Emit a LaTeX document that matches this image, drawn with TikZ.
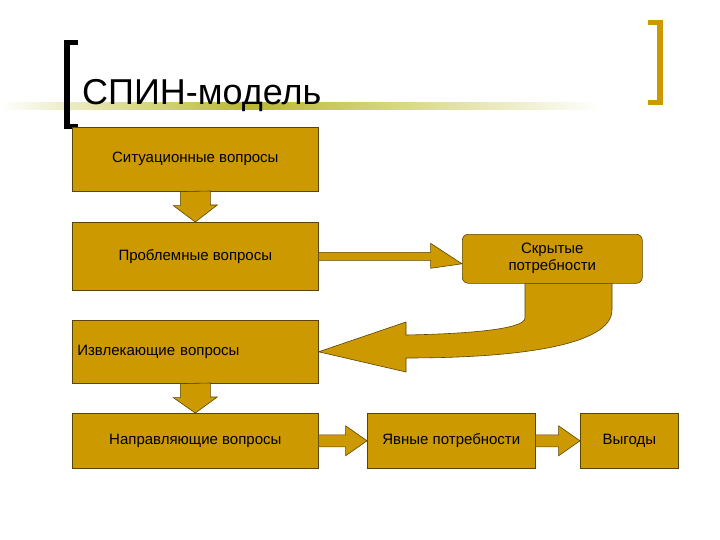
\documentclass[tikz,border=0pt]{standalone}
\usepackage{fontspec}
\usetikzlibrary{calc}
\setmainfont{Liberation Sans}
\definecolor{gold}{HTML}{CC9900}
\definecolor{edge}{HTML}{5A4500}
\begin{document}
\begin{tikzpicture}[x=1pt,y=-1pt,
  box/.style={draw=edge,fill=gold,line width=0.6pt,minimum height=#1,inner sep=2pt,font=\fontsize{15}{17}\selectfont},
  blk/.style={draw=edge,fill=gold,line width=0.6pt,line join=miter}]
\useasboundingbox (0,0) rectangle (720,540);
\fill[white] (0,0) rectangle (720,540);
% gradient line
\shade[left color=white,right color=olive!55!white] (0,103) rectangle (250,110);
\shade[left color=olive!55!white,right color=white] (250,103) rectangle (600,110);
% brackets
\fill[black] (64,40) rectangle (70,129);
\fill[black] (64,40) rectangle (78,45);
\fill[black] (64,124) rectangle (78,129);
\fill[gold] (657,20) rectangle (663,105);
\fill[gold] (648,20) rectangle (663,25);
\fill[gold] (648,100) rectangle (663,105);
\node[anchor=base west,font=\fontsize{36}{40}\selectfont,inner sep=0] (title) at (82,105) {СПИН-модель};
% boxes
\node[box=64pt,minimum width=246pt,anchor=north west] (b1) at (72,127) {Ситуационные вопросы};
\node[box=68pt,minimum width=246pt,anchor=north west] (b2) at (72,222) {Проблемные вопросы};
\node[box=63pt,minimum width=246pt,anchor=north west,align=left,text width=236pt] (b3) at (72,320) {Извлекающие вопросы};
\node[box=55pt,minimum width=246pt,anchor=north west] (b4) at (72,413) {Направляющие вопросы};
% curved arrow
\coordinate (cs) at (525,283);
\draw[blk] (cs) -- (525,318) .. controls (525,330) and (460,334) .. (406,335) -- (406,322) -- (b3.east) -- (406,372) -- (406,358)
  .. controls (520,358) and (612,345) .. (612,310) -- (612,283) -- cycle;
\node[box=49pt,minimum width=180pt,anchor=north west,rounded corners=6pt,align=center] (s) at (462,234) {Скрытые\\потребности};
\node[box=55pt,minimum width=168pt,anchor=north west] (b5) at (367,413) {Явные потребности};
\node[box=55pt,minimum width=98pt,anchor=north west] (b6) at (580,413) {Выгоды};
% down arrows
\draw[blk] (b1.south) ++(-15,0) -- ++(0,14) -- ++(-7,0) -- (b2.north) -- ++(22,-17) -- ++(-7,0) -- ++(0,-14) -- cycle;
\draw[blk] (b3.south) ++(-15,0) -- ++(0,14) -- ++(-7,0) -- (b4.north) -- ++(22,-16) -- ++(-7,0) -- ++(0,-14) -- cycle;
% right arrows
\draw[blk] (b2.east) ++(0,-4) -- ++(112,0) -- ++(0,-9) -- ($(s.west)+(0,5)$) -- ($(b2.east)+(112,12)$) -- ++(0,-8) -- ++(-112,0) -- cycle;
\draw[blk] (b4.east) ++(0,-6) -- ++(27,0) -- ++(0,-9) -- (b5.west) -- ($(b4.east)+(27,15)$) -- ++(0,-9) -- ++(-27,0) -- cycle;
\draw[blk] (b5.east) ++(0,-6) -- ++(23,0) -- ++(0,-9) -- (b6.west) -- ($(b5.east)+(23,15)$) -- ++(0,-9) -- ++(-23,0) -- cycle;
\end{tikzpicture}
\end{document}
